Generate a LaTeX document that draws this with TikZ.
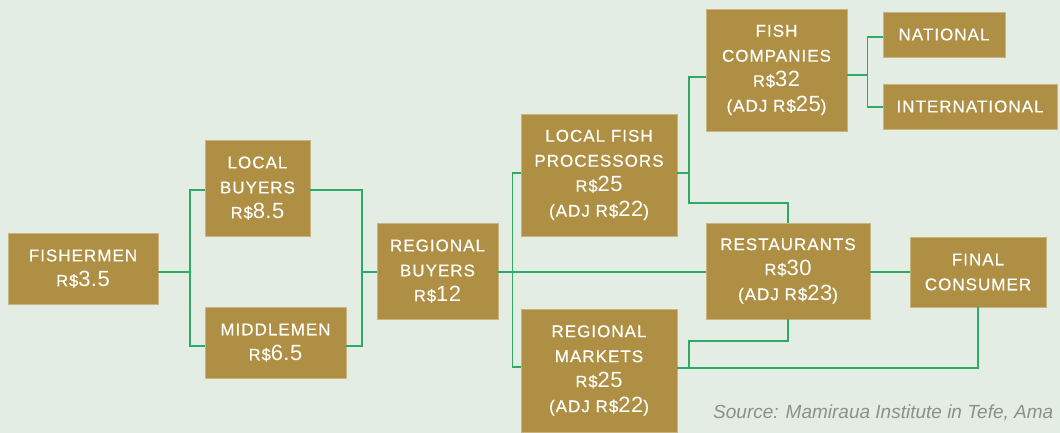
\documentclass[tikz,border=0pt]{standalone}
\usepackage{fontspec}
\setmainfont{Liberation Sans}
\newfontfamily\boxfont{Liberation Sans}[LetterSpace=6,FakeBold=0.5]
\newfontfamily\numfont{Liberation Sans}[LetterSpace=2]
\newfontfamily\srcfont{Liberation Sans}
\definecolor{bgc}{HTML}{E4EDE4}
\definecolor{boxc}{HTML}{AF8F43}
\definecolor{boxe}{HTML}{C9B47F}
\definecolor{linec}{HTML}{2EAA66}
\definecolor{srcc}{HTML}{8C8F8C}
\newcommand\ttlsz{\boxfont\fontsize{17}{25}\selectfont}
\newcommand\rsval[1]{{\fontsize{16.5}{25}\selectfont R\$}{\numfont\fontsize{22}{25}\selectfont #1}}
\newcommand\adjval[1]{{\fontsize{17}{25}\selectfont (ADJ R\$}{\numfont\fontsize{22}{25}\selectfont #1}{\fontsize{17}{25}\selectfont )}}
\begin{document}
\begin{tikzpicture}[x=1pt,y=-1pt,
  bx/.style={fill=boxc, draw=boxe, line width=0.6pt, text=white, align=center,
    inner sep=0pt, font=\ttlsz},
  conn/.style={draw=linec, line width=1.3pt}]
\clip (0,0) rectangle (1060,433);
\fill[bgc] (0,0) rectangle (1060,433);
% nodes
\node[bx, minimum width=150pt, minimum height=71pt] (fish) at (83,268.5) {FISHERMEN\\\rsval{3.5}};
\node[bx, minimum width=105pt, minimum height=96pt] (lb) at (257.5,188) {LOCAL\\BUYERS\\\rsval{8.5}};
\node[bx, minimum width=141pt, minimum height=71pt] (mm) at (275.5,342.5) {MIDDLEMEN\\\rsval{6.5}};
\node[bx, minimum width=121pt, minimum height=96pt] (rb) at (437.5,271) {REGIONAL\\BUYERS\\\rsval{12}};
\node[bx, minimum width=156pt, minimum height=122pt] (lfp) at (599,175) {LOCAL FISH\\PROCESSORS\\\rsval{25}\\\adjval{22}};
\node[bx, minimum width=141pt, minimum height=122pt] (fc) at (776.5,70) {FISH\\COMPANIES\\\rsval{32}\\\adjval{25}};
\node[bx, minimum width=122pt, minimum height=45pt] (nat) at (944,34.5) {NATIONAL};
\node[bx, minimum width=174pt, minimum height=45pt] (int) at (970,106.5) {INTERNATIONAL};
\node[bx, minimum width=164pt, minimum height=96pt] (rest) at (788,271) {RESTAURANTS\\\rsval{30}\\\adjval{23}};
\node[bx, minimum width=136pt, minimum height=70pt] (fin) at (978,272) {FINAL\\CONSUMER};
\node[bx, minimum width=156pt, minimum height=123pt] (rm) at (599,370.5) {REGIONAL\\MARKETS\\\rsval{25}\\\adjval{22}};
% junction coordinates
\coordinate (a1) at (190,272);
\coordinate (a1t) at (190,190);
\coordinate (a1b) at (190,346);
\coordinate (a2) at (362,272);
\coordinate (a2t) at (362,190);
\coordinate (a2b) at (362,346);
\coordinate (m) at (0,272);
\coordinate (a3t) at (512.5,173);
\coordinate (a3b) at (512.5,367);
\coordinate (a4t) at (689,77);
\coordinate (a4m) at (689,173);
\coordinate (a4b) at (689,203);
\coordinate (a4r) at (788,203);
\coordinate (a5) at (867.5,75);
\coordinate (a5t) at (867.5,37);
\coordinate (a5b) at (867.5,107);
\coordinate (r1) at (788,341);
\coordinate (r2) at (689,341);
\coordinate (r3) at (689,368);
\coordinate (f1) at (978,368);
% connectors
\draw[conn] (fish.east|-a1) -- (a1);
\draw[conn] (lb.west|-a1t) -- (a1t) -- (a1b) -- (mm.west|-a1b);
\draw[conn] (lb.east|-a2t) -- (a2t) -- (a2b) -- (mm.east|-a2b);
\draw[conn] (a2) -- (rb.west|-a2);
\draw[conn] (rb.east|-m) -- (rest.west|-m);
\draw[conn] (rest.east|-m) -- (fin.west|-m);
\draw[conn] (lfp.west|-a3t) -- (a3t) -- (a3b) -- (rm.west|-a3b);
\draw[conn] (lfp.east|-a4m) -- (a4m);
\draw[conn] (fc.west|-a4t) -- (a4t) -- (a4b) -- (a4r) -- (rest.north);
\draw[conn] (fc.east|-a5) -- (a5);
\draw[conn] (nat.west|-a5t) -- (a5t) -- (a5b) -- (int.west|-a5b);
\draw[conn] (rest.south) -- (r1) -- (r2) -- (r3);
\draw[conn] (rm.east|-f1) -- (f1) -- (fin.south);
% source
\node[anchor=base west, inner sep=0pt, text=srcc, font=\srcfont\itshape\fontsize{19}{21}\selectfont] (src) at (713,418) {Source: Mamiraua Institute in Tefe, Ama};
\end{tikzpicture}
\end{document}
